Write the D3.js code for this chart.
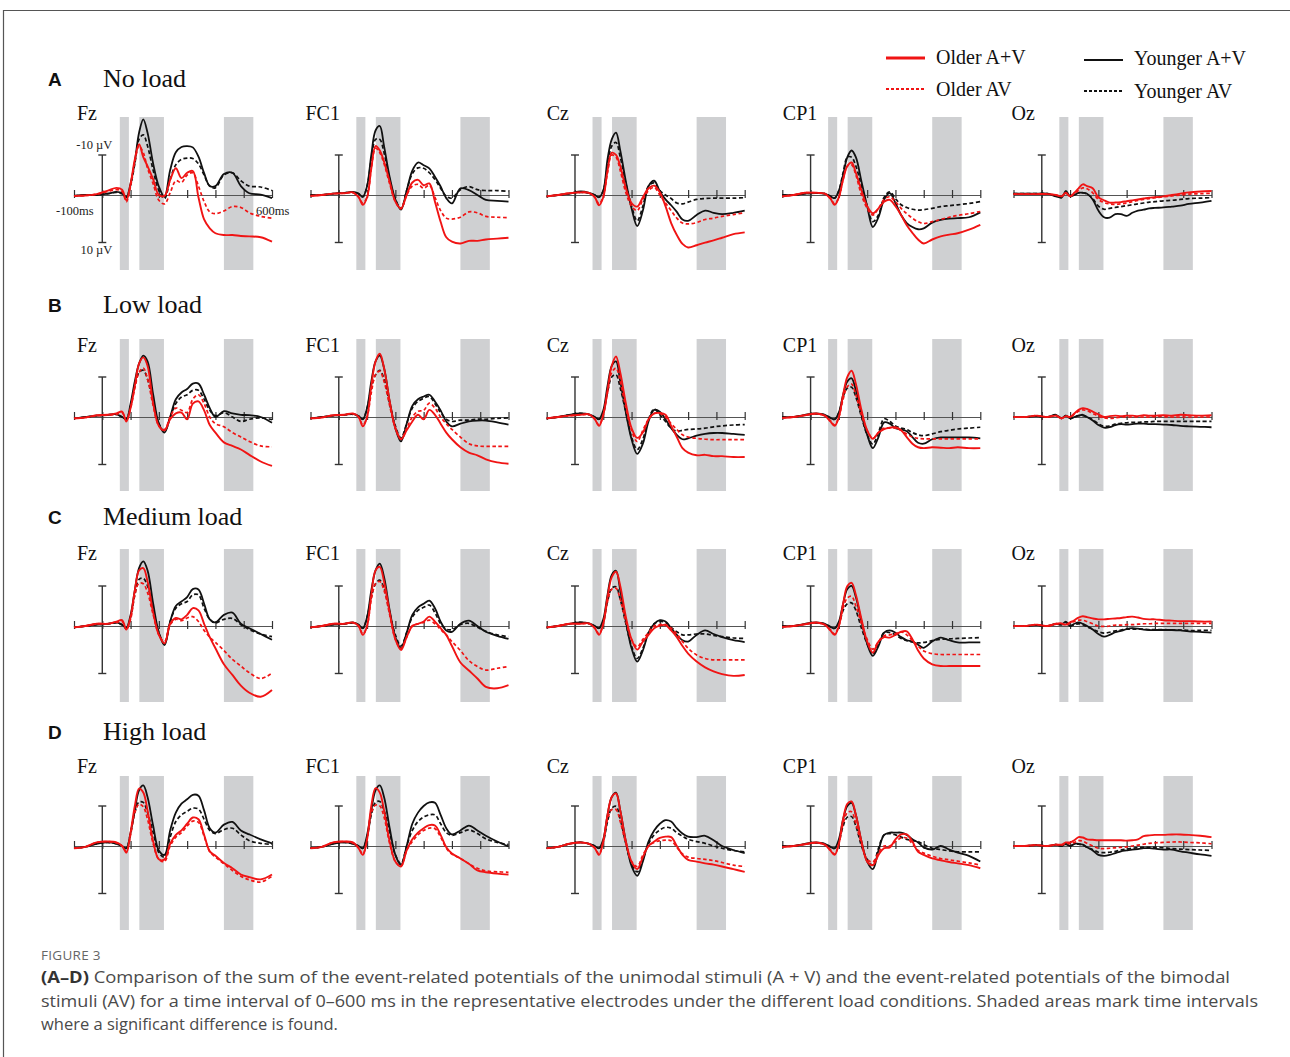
<!DOCTYPE html>
<html>
<head>
<meta charset="utf-8">
<script src="https://cdn.jsdelivr.net/npm/d3@7"></script>
<style>
  body { margin: 0; background: #fff; }
  svg { display: block; }
</style>
</head>
<body>
<svg id="fig" width="1290" height="1057"></svg>
<script>
// sample times (ms) shared by every waveform
const times = [-100, -60, -20, 20, 50, 70, 85, 100, 115, 130, 145, 160, 180, 200, 220, 240,
  260, 280, 300, 320, 340, 360, 380, 400, 430, 460, 490, 520, 560, 600];
const electrodes = ['Fz', 'FC1', 'Cz', 'CP1', 'Oz'];
const loadLetters = ['A', 'B', 'C', 'D'];
const loadNames = ['No load', 'Low load', 'Medium load', 'High load'];
const seriesNames = ['Older A+V', 'Older AV', 'Younger A+V', 'Younger AV'];
const sigWindows = [[62, 94], [131, 218], [430, 534]];
const axisTicks = [-100, 0, 100, 200, 300, 400, 500, 600];
const scaleBarUV = [-10, 10];

// each panel: [Older A+V, Older AV, Younger A+V, Younger AV] in µV (negative plotted up)
const noLoadFz = [
  [0.2,0.1,-0.2,-1.0,-1.6,-1.2,1.2,-2.5,-8,-11.4,-8.5,-6.5,-3.5,0,0.2,-3.4,-6,-3.8,-5,-5.4,0.5,5.5,7.5,8.6,9,9,9.2,9.3,9.5,10.5],
  [0.2,0.1,-0.2,-0.8,-1.2,-0.8,1.5,-2,-7.5,-11,-9.5,-6,-2.5,1.2,2,-0.5,-3.2,-2.8,-4.5,-5,-2,1.5,3.8,4.2,3.6,2.6,2.8,4,4.8,5.2],
  [0.2,0,0,-0.3,-0.7,-0.4,0.5,-2.6,-7.5,-14,-17,-14,-7,-1.9,0.4,-5.6,-9.6,-10.8,-11,-10.7,-8.6,-4.9,-2,-2,-4.7,-5,-2,-0.4,-0.1,0.7],
  [0.2,0,0,-0.3,-0.6,-0.3,0.5,-2.2,-7,-12.5,-13.5,-11,-5.5,-1,0.8,-3.5,-6.8,-8,-8.3,-8.2,-7,-4.5,-2,-1.6,-4.5,-5,-3.2,-2,-1.8,-1]
];
const noLoadFC1 = [
  [0.2,0,-0.3,-0.4,-0.6,0.5,2.2,0.5,-6,-11,-10,-7.5,-3,1.5,3,0,-2.8,-3.4,-2.2,-2.6,1.5,6,9.5,10.5,10.9,10.3,10.3,10,9.8,9.6],
  [0.2,0,-0.3,-0.4,-0.5,0.4,1.8,0.5,-6,-10.5,-9.5,-7,-2.5,1.5,3.1,0,-2,-2.4,-1.5,-2.2,0.5,3.5,5.2,5.4,5,3.8,4,4.8,5,5.1],
  [0,0,-0.3,-0.5,-0.7,-0.3,0.4,-2,-9,-14.5,-15.5,-11,-4,1,3.3,-1,-5.5,-7.3,-6.7,-6,-4.1,-1.9,0.7,1.9,-1.5,-1.1,0,1.1,1.3,1.5],
  [0,0,-0.3,-0.5,-0.6,-0.3,0.4,-2,-8,-12.5,-12.5,-9.5,-3.5,1,3,-1,-4.8,-6.1,-6,-5,-3.5,-1.5,0.3,0.7,-1.2,-1.9,-1.2,-1,-1,-0.8]
];
const noLoadCz = [
  [0.3,0,-0.4,-0.6,-0.5,0.5,2.3,0.5,-5.5,-9.5,-9,-6.5,-1.5,1.8,2.6,0.5,-1.5,-2.1,-0.6,2.5,6.3,9,11,11.8,11.3,10.7,10.2,9.6,8.8,8.4],
  [0.3,0,-0.4,-0.6,-0.4,0.5,2,0.3,-5,-9,-8.5,-5.5,-0.5,2.5,3.5,1,-1,-1.7,0,1.8,3.5,5.2,6.3,6.5,6.2,5.5,5.2,4.8,4.4,4],
  [0.3,0,-0.3,-0.8,-0.5,0,0.5,-1,-8,-12.5,-14,-10,-3,3,7,3.5,-2,-3.2,-0.8,1,2.3,3.8,5.5,5.8,4.5,3.5,4,4.3,4,3.5],
  [0.3,0,-0.3,-0.6,-0.4,0,0.5,-1,-6.5,-11,-11.8,-8.5,-2.5,2.5,5.8,2.5,-2,-2.7,-1,0,0.8,1.8,2,1.6,1,0.8,0.7,0.7,0.7,0.6]
];
const noLoadCP1 = [
  [0.3,0,-0.5,-0.5,-0.3,0.8,2.2,0.5,-3.5,-6.5,-7.3,-5,-1,2.5,4.1,3,1.5,1.1,2.5,4.5,6.8,8.5,10,10.9,10,9.3,8.9,8.6,7.8,6.7],
  [0.3,0,-0.5,-0.5,-0.3,0.7,2,0.5,-3.5,-6.5,-6.8,-4.5,0,3,4.5,3,1,0.4,1.5,3,4.2,5.2,6,6.4,6,5.5,5,4.6,4.2,3.7],
  [0,0,-0.3,-0.4,-0.3,0.3,0.7,-1,-4.5,-8.5,-10,-8.5,-3,2.5,7.2,5,1,-0.4,1.8,4.5,6.3,7.2,7.7,7.5,6.2,5.6,5.3,5.2,5,3.9],
  [0,0,-0.3,-0.4,-0.3,0.3,0.7,-1,-5,-8.5,-8.5,-6.5,-2,2.5,6,4.5,0.5,-0.7,0.8,2.2,2.8,3.2,3.4,3.3,3,2.6,2.4,2.2,1.9,1.5]
];
const noLoadOz = [
  [-0.2,-0.2,-0.2,-0.2,0,0.3,-0.5,0.3,-0.5,-1.5,-2.4,-2,-1.5,0.5,1.2,1.7,1.7,1.6,1.4,1.2,1,0.8,0.6,0.5,0.3,0,-0.3,-0.6,-0.8,-0.9],
  [-0.2,-0.2,-0.2,-0.2,0,0.3,-0.4,0.3,-0.3,-1,-1.6,-1.4,-0.5,1,1.7,2,2.1,2,1.8,1.5,1.2,1,0.8,0.6,0.4,0.2,0,-0.2,-0.3,-0.4],
  [-0.3,-0.3,-0.3,-0.3,0.3,0.6,-0.9,0.3,0,-0.5,-0.5,-0.3,1,3.5,5,5.1,4.3,4.3,4.7,4,3.5,3.3,3,2.9,2.8,2.6,2.4,2,1.7,1.3],
  [-0.3,-0.3,-0.3,-0.3,0.2,0.3,-0.5,0,0,-0.5,-0.5,-0.2,0.8,2.5,3.2,3,2.8,2.6,2.4,2.2,2,1.8,1.6,1.5,1.3,1.2,1,0.8,0.7,0.6]
];

const lowLoadFz = [
  [0.3,0.1,-0.4,-0.5,-0.8,-1.2,1,-2,-7,-12,-13.4,-11.5,-3,2,3,0.5,-0.8,-1,0.5,-3,-3.5,-1.5,1.8,3.5,5.7,6.5,7.3,8.5,10,11],
  [0.3,0.1,-0.3,-0.4,-0.6,-1,0.8,-2,-6.5,-10,-11,-8.5,-2.5,2,2.8,0,-2,-1.5,-1,-4,-5,-3,0,1.5,2.2,3.5,4.5,5.5,6.5,6.7],
  [0.3,0,-0.3,-0.5,-0.6,0,0.5,-3,-8,-12,-13.8,-12.5,-5,1.5,3.5,0,-4,-5.5,-6.3,-7.5,-7.5,-5,-2,0,-1.3,-0.8,-0.5,-0.4,0,1.3],
  [0.3,0,-0.3,-0.5,-0.6,0,0.5,-2.5,-7,-10,-10.5,-8.5,-3.5,1.5,3.2,0,-3,-4.5,-5,-6,-6,-4,-1.5,-0.3,-1,0,1,0.5,0.2,0.6]
];
const lowLoadFC1 = [
  [0.3,0.1,-0.4,-0.5,-0.8,0,2.1,0,-7,-12.5,-14.2,-11,-3.5,2.5,5,3,1,-0.5,0.5,-1.6,-0.5,1.5,3.5,5,6.8,8,8.6,9.5,10.2,10.5],
  [0.3,0.1,-0.4,-0.5,-0.7,0,1.8,0,-5.5,-9.5,-10.3,-8,-2.5,2.5,5,2.5,0,-1.3,-1.5,-3.1,-2,0,1.5,2.8,4.5,6,6.5,6.6,6.6,6.6],
  [0.3,0,-0.3,-0.5,-0.7,-0.2,0.5,-2,-8,-12.5,-13.8,-11,-3.5,2.5,5.5,1.5,-2.5,-4,-4.6,-5,-3.5,-1.5,1,2.1,1.5,1,0.8,0.8,1.2,1.7],
  [0.3,0,-0.3,-0.5,-0.6,-0.2,0.5,-2,-6.5,-9.5,-10.5,-8.5,-3,2,4.7,1.5,-2,-3.5,-4.2,-4.6,-3,-1,0.5,1,0.7,0.7,0.5,0.5,0.3,0.2]
];
const lowLoadCz = [
  [0.3,0,-0.3,-0.5,-0.6,0.5,2,-0.5,-6,-11.5,-13.6,-10,-3,2.5,4.7,3.5,0.5,-0.8,-0.9,-0.5,2,4.5,7,8,8.6,8.5,8.8,8.8,9,9],
  [0.3,0,-0.3,-0.5,-0.5,0.4,1.8,-0.5,-5.5,-10,-11,-8,-2,3,5.5,3,0.5,-0.8,-0.8,0,1.5,2.8,4,4.5,4.8,5,5.1,5.1,5.1,5.1],
  [0.3,0,-0.5,-0.8,-0.6,0,0.5,-1.5,-7,-11.5,-12.5,-8,-1,5,8.3,6,1,-1.6,-1.2,0.5,2.5,4,5,4.8,4.2,3.8,3.6,3.6,3.8,4],
  [0.3,0,-0.5,-0.8,-0.5,0,0.5,-1,-5.5,-9,-9.5,-6.5,-1,4.5,7.3,5,0.5,-1.8,-0.5,1,2.5,3.2,3,2.8,2.7,2.5,2.2,2,1.8,1.7]
];
const lowLoadCP1 = [
  [0.2,0,-0.4,-0.8,-0.3,1,2,0,-5,-9,-10.4,-7.5,-1.5,3,4.9,3.5,2.7,2.4,2.3,3,4.5,6,6.8,7,6.8,6.9,7,6.8,7,7],
  [0.2,0,-0.4,-0.7,-0.3,0.8,1.8,0,-4,-6.8,-7.4,-5,-0.5,3,4.8,3.5,2.5,2.5,2.5,3,3.8,4.5,4.8,4.9,4.9,4.9,4.9,4.9,4.9,4.9],
  [0,0,-0.5,-0.8,-0.5,0.2,0.5,-1,-5,-8,-8.7,-6,-0.5,4,7,4.5,1.2,1.5,2.5,2.8,3.2,4.5,5.8,6,5,4.6,4.6,4.6,4.6,4.8],
  [0,0,-0.4,-0.7,-0.5,0.2,0.5,-1,-4.5,-6.5,-6.7,-4.5,0,4,6.1,3.5,0.4,1,2,2.5,2.8,3.5,4,4.2,3.8,3.3,3,2.7,2.5,2.3]
];
const lowLoadOz = [
  [0,0,-0.3,0,-0.3,0.3,-0.2,0,-0.8,-1.6,-2,-1.8,-1.2,-0.6,0,-0.2,-0.3,-0.2,-0.3,-0.3,-0.2,-0.4,-0.3,-0.3,-0.4,-0.3,-0.5,-0.4,-0.3,-0.4],
  [0,0,-0.3,0,-0.3,0.3,-0.2,0,-0.6,-1.3,-1.6,-1.4,-0.8,-0.2,0.2,0.3,0.2,0,0,0,0,0,0,-0.1,-0.1,0,0,0,0,0],
  [0,0,-0.2,0,-0.5,0.3,-0.3,0.3,0,-0.3,-0.5,0,0.8,1.8,2.4,2.3,1.8,1.6,1.7,1.6,1.5,1.5,1.6,1.6,1.7,1.8,2,2.1,2.2,2.3],
  [0,0,-0.2,0,-0.4,0.3,-0.3,0.2,0,-0.3,-0.3,0,0.6,1.5,2.1,2,1.6,1.4,1.3,1.2,1.2,1.1,1.1,1,1,1,1,1,1,1]
];

const mediumLoadFz = [
  [0.3,0,-0.5,-0.5,-1,-1.3,0.8,-2,-8,-12.5,-13,-10,-3,2,3.9,-0.5,-1.8,-1.5,-2.5,-4,-3.5,-0.5,2.5,5,8.6,11,13.4,15,15.9,14.4],
  [0.3,0,-0.5,-0.5,-0.8,-1,0.8,-1.5,-7,-9.6,-9.5,-7.5,-2.5,2,3.5,-0.3,-1.5,-1.2,-1.8,-2.1,-1,1,2.5,3.7,5.5,7.5,9,10.5,11.8,10.6],
  [0.3,0,-0.3,-0.5,-0.8,-0.3,0.5,-2.5,-8,-13,-14.5,-12.5,-5,1.5,4.3,-1,-4.5,-5.5,-6.5,-8.3,-8.2,-5,-1.5,-0.8,-2.5,-3,-0.5,0.5,1.8,3.1],
  [0.3,0,-0.3,-0.5,-0.7,-0.3,0.5,-2,-7,-10.5,-10.7,-9,-3.5,1.5,4,-1,-4,-5,-5.5,-7,-7,-4,-1.5,-0.7,-1.5,-1.7,-0.3,0.8,1.8,2.4]
];
const mediumLoadFC1 = [
  [0.3,0,-0.5,-0.5,-0.8,0,2,0,-7,-12.5,-13.3,-10,-3,3,5.4,2.5,0,-0.5,-1,-2.1,-1,0.5,2,4.5,8.2,10,11.8,13.7,14,13.3],
  [0.3,0,-0.5,-0.5,-0.7,0,1.8,0,-6,-9.5,-10,-8,-2.5,3,5,2.5,0,-0.5,-0.8,-1.3,-0.5,0.8,2,3.5,5.5,7.8,9.1,9.9,9.5,9.1],
  [0.3,0,-0.3,-0.5,-0.8,-0.3,0.5,-2,-8,-12.5,-14,-11,-3.5,2.5,5,1.5,-2.5,-4.2,-5,-5.7,-4,-1,1,1.3,-0.5,-1.2,0,1.3,2.2,2.9],
  [0.3,0,-0.3,-0.5,-0.7,-0.3,0.5,-2,-6.5,-9.5,-10.3,-8.5,-3,2,4.5,1.5,-2,-3.5,-4.2,-4.7,-3,-0.5,0.7,0.8,-0.3,-0.6,0.3,1.2,2,2.4]
];
const mediumLoadCz = [
  [0.3,0,-0.5,-0.5,-0.6,0.5,2,-0.5,-6.5,-11,-12.2,-9,-2,3,5.3,3.5,2,0.5,-0.1,-0.2,1,2.5,4.5,6.2,8,9.3,10.2,10.8,11.2,11],
  [0.3,0,-0.5,-0.5,-0.5,0.4,1.8,-0.5,-5.5,-8.3,-8.5,-6,-1,3,4.7,3,1.5,0,-0.3,-0.3,0.5,1.8,3.5,5,6.5,7.3,7.6,7.6,7.6,7.6],
  [0.3,0,-0.5,-0.8,-0.6,0,0.5,-1.5,-7,-11.5,-12.4,-8,-1,5,8,5.5,1.5,-0.5,-1.3,-1,0.5,2,3.2,3.5,2,1,1.8,2.5,3.2,3.6],
  [0.3,0,-0.5,-0.8,-0.5,0,0.5,-1,-5.5,-8.5,-8.8,-6,-0.5,4.5,7.3,5,1.5,-0.5,-1,-0.8,0.3,1.3,2,2,1.8,1.8,2.1,2.4,2.7,2.8]
];
const mediumLoadCP1 = [
  [0.2,0,-0.4,-0.8,-0.3,1,2,0,-5,-9,-9.7,-7,-1.5,3.5,6,3.5,2.5,2.6,2,1.3,1.2,3,5.5,7.3,8.6,9,9,9,9,9],
  [0.2,0,-0.4,-0.7,-0.3,0.8,1.8,0,-4,-6.3,-6.7,-4.5,-0.5,3,5.2,3.5,2.2,2,1.7,1.3,2,3.3,4.5,5.6,6.2,6.4,6.4,6.4,6.4,6.4],
  [0,0,-0.5,-0.8,-0.5,0.2,0.5,-1,-5,-8.3,-9,-6.5,-1,4,6.7,4.5,1.5,1,1.5,2.5,3.2,3.5,4.2,4.9,3.5,2.6,3.2,3.7,3.7,3.7],
  [0,0,-0.4,-0.7,-0.5,0.2,0.5,-0.5,-3.5,-5,-5.2,-3.5,0.5,4,6.3,4,1.5,1.5,2,2.8,3.3,3.6,3.8,3.7,3.3,3,2.9,2.8,2.7,2.6]
];
const mediumLoadOz = [
  [0,0,-0.3,0,-0.5,-0.6,-0.3,-0.8,-1.3,-1.9,-2.2,-2,-1.7,-1.5,-1.5,-1.6,-1.7,-1.8,-2,-2.1,-1.9,-1.6,-1.5,-1.5,-1.3,-1.2,-1.1,-1.1,-1,-1],
  [0,0,-0.3,0,-0.4,-0.5,-0.2,-0.6,-1,-1.3,-1.3,-1,-0.5,0,0.1,0,-0.2,-0.2,-0.3,-0.3,-0.4,-0.5,-0.5,-0.6,-0.6,-0.6,-0.6,-0.6,-0.6,-0.6],
  [0,0,-0.2,0,-0.5,-0.3,-1,0,-0.5,-0.8,-0.5,0,0.8,1.8,2.4,2,1.4,1.1,0.7,0.5,0.6,0.8,0.9,0.9,0.9,0.9,1,1.2,1.3,1.5],
  [0,0,-0.2,0,-0.4,-0.3,-0.8,0,-0.3,-0.5,-0.3,0.2,0.7,1.3,1.6,1.4,1.1,0.9,0.7,0.7,0.7,0.7,0.8,0.8,0.8,0.9,0.9,1,1,1]
];

const highLoadFz = [
  [0.5,0.2,-0.8,-1,-0.8,0,1.5,-3,-9,-12.9,-12,-8,-1,3,3,-0.5,-2.5,-3.5,-5,-6.4,-6,-2.5,1.2,2.2,3.8,5,6.4,7,7.5,6.4],
  [0.5,0.2,-0.8,-1,-0.7,0,1.2,-2.5,-7.5,-9.4,-8.8,-6,-0.5,3,3.5,0,-2,-3,-4.5,-5.6,-5.3,-2.2,1.3,2.5,4,5.5,6.8,7.6,8.1,6.8],
  [0.5,0.2,-0.5,-0.8,-0.5,0,0.5,-3,-8,-12.5,-13.6,-11,-4.5,1,2,-3.5,-7.5,-9.5,-10.5,-11.5,-11.3,-8,-4,-3,-4.8,-5.4,-3.5,-2.6,-1.5,-0.6],
  [0.5,0.2,-0.5,-0.8,-0.5,0,0.5,-3,-7.5,-9.9,-9.8,-7.5,-3,1.5,2.5,-2,-5.5,-7,-7.8,-8.5,-8.3,-6,-3.5,-2.8,-3.7,-4,-2.5,-1.2,-0.6,-0.4]
];
const highLoadFC1 = [
  [0.5,0.2,-0.8,-1,-0.8,0.5,2,-1.5,-9,-13,-12,-8,-1,3.5,4.6,1,-1.5,-3,-4,-4.7,-4.6,-2.5,0.3,1.7,2.8,4,5.5,5.9,6.2,6.4],
  [0.5,0.2,-0.8,-1,-0.7,0.4,1.8,-1.5,-7.5,-9.2,-9,-6.5,-0.5,3.5,4.5,1,-1,-2.5,-3.5,-4,-3.9,-2,0.5,1.8,2.8,4,5,5.6,5.8,5.9],
  [0.5,0.2,-0.5,-0.8,-0.5,0,0.5,-2.5,-8,-12.5,-13.6,-11,-4,2,4.3,0,-5,-7.5,-9,-9.8,-9.7,-7,-4,-2.6,-3.5,-4.6,-3.5,-2.3,-1,0.1],
  [0.5,0.2,-0.5,-0.8,-0.5,0,0.5,-2,-7,-9.8,-10,-8,-3,2,4,0,-3.5,-5.5,-6.5,-7,-7,-5,-3,-2.4,-3,-3.6,-2.8,-1.6,-0.8,-0.3]
];
const highLoadCz = [
  [0.5,0.2,-0.5,-0.8,-0.5,0.5,2,-1,-7,-11,-11.8,-8,-1,3.5,5.2,2.5,0,-1,-1.8,-2.1,-2,0,2,3.1,3.5,3.9,4.2,4.6,5.2,5.8],
  [0.5,0.2,-0.5,-0.8,-0.5,0.4,1.8,-1,-6,-8.2,-8.2,-5.5,-0.5,3.5,4.6,2,0,-0.8,-1.2,-1.3,-1.2,0.3,1.8,2.5,2.8,3,3.3,3.7,4.3,4.6],
  [0.5,0.2,-0.5,-0.8,-0.5,0,0.5,-1.5,-7,-11,-12,-8,-1,4.5,6.7,3.5,-1,-3.5,-5,-5.8,-5.5,-4,-2.8,-2.1,-2,-2.3,-1.3,0,0.9,1.6],
  [0.5,0.2,-0.5,-0.8,-0.5,0,0.5,-1,-5.5,-8.5,-8.9,-6,-0.5,4,5.8,3,-0.5,-2.5,-3.6,-4.2,-4,-3,-2.2,-1.5,-1,-0.6,0,0.5,1,1.3]
];
const highLoadCP1 = [
  [0.2,0,-0.4,-0.8,-0.3,1,2,-0.5,-6,-9.5,-10,-7,-1,3.5,4.3,2,0.5,0.3,-1.5,-2.6,-2.6,-1,1.3,2,2.8,3.2,3.6,3.9,4.3,5],
  [0.2,0,-0.4,-0.7,-0.3,0.8,1.8,-0.5,-5,-7.5,-7.7,-5,-0.5,3,3.6,1.5,0,0,-1,-1.8,-1.8,-0.5,1,1.6,2.3,2.8,3.1,3.4,3.8,4.3],
  [0,0,-0.5,-0.8,-0.5,0.2,0.5,-1.5,-6,-9,-9.7,-7,-1,3.5,5.2,1,-2.5,-3,-3,-3,-2.5,-1.5,-0.8,0.3,0.8,0,0.8,1.5,2.2,3.5],
  [0,0,-0.4,-0.7,-0.5,0.2,0.5,-1,-4.5,-6.5,-6.6,-4.5,0,3,4.3,0.5,-2.5,-2.8,-2.5,-2,-1.5,-1.2,-1,-0.3,0.5,0.8,1.1,1.3,1.3,1.3]
];
const highLoadOz = [
  [0,0,-0.2,0,-0.3,-0.3,-0.8,-0.8,-1.3,-2,-1.9,-1.5,-1.4,-1.3,-1.3,-1.3,-1.3,-1.3,-1.2,-1.3,-1.5,-2.2,-2.4,-2.5,-2.5,-2.6,-2.6,-2.5,-2.3,-2],
  [0,0,-0.2,0,-0.3,-0.2,-0.6,-0.5,-0.8,-1.2,-1.1,-0.6,0,0.5,0.6,0.5,0.4,0.3,0.2,0,-0.2,-0.4,-0.6,-0.7,-0.8,-0.9,-0.9,-0.8,-0.7,-0.5],
  [0,0,-0.2,0,-0.3,0,-0.5,0,-0.5,-0.5,-0.3,0.3,1,2,2.2,2,1.6,1.2,1,0.8,0.7,0.5,0.5,0.6,0.8,0.8,1.2,1.5,1.9,2.2],
  [0,0,-0.2,0,-0.3,0,-0.4,0,-0.4,-0.4,-0.2,0.3,0.8,1.4,1.5,1.4,1.2,0.9,0.7,0.5,0.4,0.3,0.3,0.3,0.4,0.6,0.7,0.8,0.9,1]
];

const panels = [
  [noLoadFz, noLoadFC1, noLoadCz, noLoadCP1, noLoadOz],
  [lowLoadFz, lowLoadFC1, lowLoadCz, lowLoadCP1, lowLoadOz],
  [mediumLoadFz, mediumLoadFC1, mediumLoadCz, mediumLoadCP1, mediumLoadOz],
  [highLoadFz, highLoadFC1, highLoadCz, highLoadCP1, highLoadOz]
];

// ---- layout ----
const colX = [74, 310.5, 546.7, 782.3, 1013.5];
const labelDx = [3, -5, 0, 0.5, -2];
const rows = [
  { base: 195, top: 117, bottom: 270, label: 119.5, head: 87 },
  { base: 417, top: 339, bottom: 491, label: 351.5, head: 313 },
  { base: 626, top: 549, bottom: 702, label: 560, head: 525 },
  { base: 846, top: 776, bottom: 930, label: 773, head: 740 }
];
const serif = "'Liberation Serif', 'Times New Roman', serif";
const styles = [
  { stroke: '#f01414', dash: null, width: 1.9 },
  { stroke: '#f01414', dash: '3.5,2.5', width: 1.7 },
  { stroke: '#111', dash: null, width: 1.8 },
  { stroke: '#111', dash: '4,2.5', width: 1.7 }
];

const svg = d3.select('#fig');

// figure frame
svg.append('line').attr('x1', 3).attr('x2', 1290).attr('y1', 10.5).attr('y2', 10.5)
  .attr('stroke', '#555').attr('stroke-width', 1.2);
svg.append('line').attr('x1', 3.5).attr('x2', 3.5).attr('y1', 10).attr('y2', 1057)
  .attr('stroke', '#555').attr('stroke-width', 1.2);

const x = d3.scaleLinear().domain([-100, 600]).range([0, 198]);
const y = d3.scaleLinear().domain([-10, 10]).range([-44.5, 44.5]);
const barY = d3.scaleLinear().domain(scaleBarUV).range([-40, 47.5]);

const line = d3.line()
  .x((d, i) => x(times[i]))
  .y(d => y(d))
  .curve(d3.curveCatmullRom.alpha(0.5));

rows.forEach((row, r) => {
  svg.append('text').attr('x', 48).attr('y', row.head - 1)
    .attr('font-family', "'Liberation Sans', Arial, sans-serif").attr('font-weight', 'bold')
    .attr('font-size', 19).attr('fill', '#111').text(loadLetters[r]);
  svg.append('text').attr('x', 103).attr('y', row.head)
    .attr('font-family', serif).attr('font-size', 26).attr('fill', '#111').text(loadNames[r]);

  electrodes.forEach((el, c) => {
    const g = svg.append('g').attr('transform', `translate(${colX[c]},${row.base})`);

    g.selectAll('rect.sig').data(sigWindows).join('rect')
      .attr('class', 'sig')
      .attr('x', d => x(d[0]))
      .attr('width', d => x(d[1]) - x(d[0]))
      .attr('y', row.top - row.base)
      .attr('height', row.bottom - row.top)
      .attr('fill', '#cfd0d2');

    const ax = g.append('g').call(
      d3.axisBottom(x).tickValues(axisTicks).tickSize(3).tickSizeOuter(0).tickFormat('')
    );
    ax.select('.domain').attr('stroke', '#555').attr('stroke-width', 1.1);
    ax.selectAll('.tick line').attr('y1', -5).attr('stroke', '#333').attr('stroke-width', 1.2);

    // scale bar ±10 µV at 0 ms
    const sb = g.append('g').attr('stroke', '#333').attr('stroke-width', 1.4);
    sb.append('line').attr('x1', x(0)).attr('x2', x(0))
      .attr('y1', barY(scaleBarUV[0])).attr('y2', barY(scaleBarUV[1]));
    scaleBarUV.forEach(v => {
      sb.append('line').attr('x1', x(0) - 4).attr('x2', x(0) + 4)
        .attr('y1', barY(v)).attr('y2', barY(v));
    });

    [3, 2, 1, 0].forEach(s => {
      const st = styles[s];
      g.append('path')
        .datum(panels[r][c][s])
        .attr('d', line)
        .attr('fill', 'none')
        .attr('stroke', st.stroke)
        .attr('stroke-width', st.width)
        .attr('stroke-dasharray', st.dash)
        .attr('stroke-linejoin', 'round');
    });

    svg.append('text').attr('x', colX[c] + labelDx[c]).attr('y', row.label)
      .attr('font-family', serif).attr('font-size', 20).attr('fill', '#111').text(el);

    if (r === 0 && c === 0) {
      const lab = g.append('g').attr('font-family', serif).attr('font-size', 12.5).attr('fill', '#222');
      lab.append('text').attr('x', x(0) + 10).attr('y', barY(scaleBarUV[0]) - 6)
        .attr('text-anchor', 'end').text(`${scaleBarUV[0]} µV`);
      lab.append('text').attr('x', x(0) + 10).attr('y', barY(scaleBarUV[1]) + 11)
        .attr('text-anchor', 'end').text(`${scaleBarUV[1]} µV`);
      lab.append('text').attr('x', x(-100) - 18).attr('y', 20).text(`${axisTicks[0]}ms`);
      lab.append('text').attr('x', x(600) - 16).attr('y', 20).text(`${axisTicks[axisTicks.length - 1]}ms`);
    }
  });
});

// legend
const legendPos = [
  { x: 886, y: 58, ty: 64 },
  { x: 886, y: 89, ty: 96 },
  { x: 1084, y: 60, ty: 65 },
  { x: 1084, y: 91, ty: 98 }
];
seriesNames.forEach((name, i) => {
  const p = legendPos[i];
  const st = styles[i];
  svg.append('line').attr('x1', p.x).attr('x2', p.x + 39).attr('y1', p.y).attr('y2', p.y)
    .attr('stroke', st.stroke).attr('stroke-width', i === 0 ? 3 : 2)
    .attr('stroke-dasharray', st.dash ? '3,2' : null);
  svg.append('text').attr('x', p.x + 50).attr('y', p.ty)
    .attr('font-family', serif).attr('font-size', 20).attr('fill', '#111').text(name);
});

// caption
const cap = svg.append('g').attr('font-family', "'Open Sans', 'Noto Sans', sans-serif");
cap.append('text').attr('x', 41).attr('y', 960).attr('font-size', 13.5)
  .attr('fill', '#666').attr('letter-spacing', 0.3).text('FIGURE 3');
const l1 = cap.append('text').attr('x', 41).attr('y', 983).attr('font-size', 16.5).attr('fill', '#4a4a4a')
  .attr('textLength', 1189).attr('lengthAdjust', 'spacingAndGlyphs');
l1.append('tspan').attr('font-weight', 'bold').attr('fill', '#333').text('(A–D)');
l1.append('tspan').text(' Comparison of the sum of the event-related potentials of the unimodal stimuli (A + V) and the event-related potentials of the bimodal');
cap.append('text').attr('x', 41).attr('y', 1007).attr('font-size', 16.5).attr('fill', '#4a4a4a')
  .attr('textLength', 1217).attr('lengthAdjust', 'spacingAndGlyphs')
  .text('stimuli (AV) for a time interval of 0–600 ms in the representative electrodes under the different load conditions. Shaded areas mark time intervals');
cap.append('text').attr('x', 41).attr('y', 1030).attr('font-size', 16.5).attr('fill', '#4a4a4a')
  .text('where a significant difference is found.');
</script>
</body>
</html>
